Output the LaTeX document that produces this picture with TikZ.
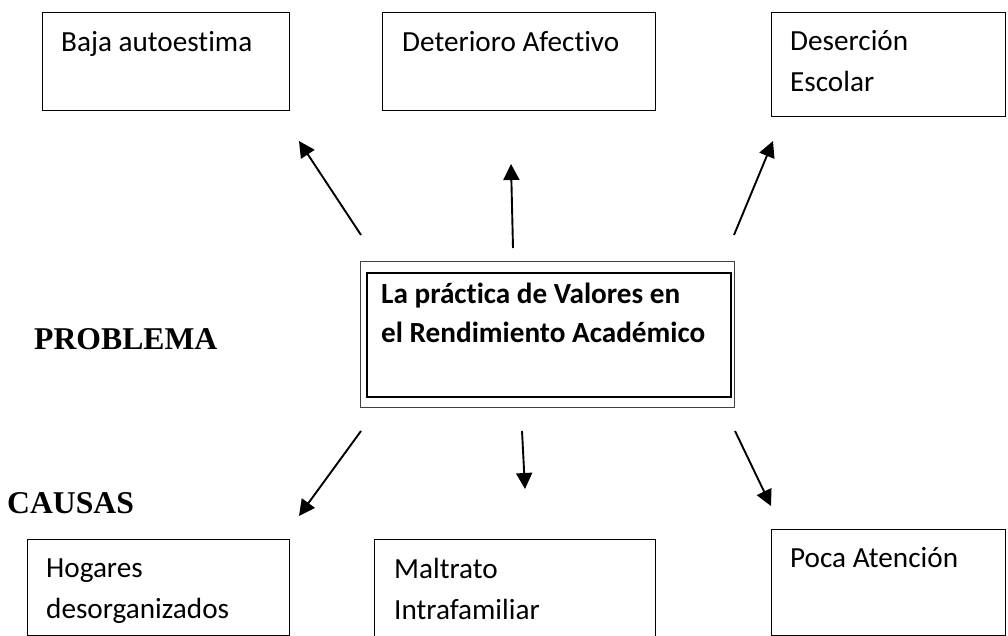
\documentclass[tikz,border=0pt]{standalone}
\usepackage{fontspec}
\setmainfont[Ligatures=NoCommon]{Carlito}
\newfontfamily\titlefont{Liberation Serif}
\usetikzlibrary{arrows.meta, positioning}

\begin{document}
\begin{tikzpicture}[x=1pt, y=-1pt,
  box/.style={draw, line width=1.4pt, inner sep=0pt, anchor=north west},
  txt/.style={inner sep=0pt, anchor=base west, align=left,
              font=\fontsize{29.2}{41}\selectfont},
  head/.style={inner sep=0pt, anchor=base west,
               font=\titlefont\bfseries\fontsize{31.7}{38}\selectfont},
  arr/.style={line width=1.9pt, -{Triangle[length=16pt, width=16pt]}}]
\useasboundingbox (0,0) rectangle (1008,636);
%%── Effect boxes (top row) ───────────────────────────────
\node[box, minimum width=247pt, minimum height=98pt]  (baja)  at (42,12)  {};
\node[box, minimum width=273pt, minimum height=98pt]  (deter) at (382,12) {};
\node[box, minimum width=234pt, minimum height=104pt] (deser) at (771,12) {};
%% base anchor of a two-line text = baseline of its last line
\node[txt] (bajat)  at ([shift={(19,40)}]baja.north west)  {Baja autoestima};
\node[txt] (detert) at ([shift={(20,40)}]deter.north west) {Deterioro Afectivo};
\node[txt] (desert) at ([shift={(19,80)}]deser.north west) {Deserción\\Escolar};
%%── Problem box (double frame) ───────────────────────────
\node[box, line width=0.9pt, draw=black!75, minimum width=374pt, minimum height=146pt] (prob) at (360,261) {};
\node[box, line width=1.6pt, minimum width=364pt, minimum height=124pt] (probin) at (366,272) {};
\node[txt, font=\bfseries\fontsize{29.2}{39}\selectfont] (probt)
     at ([shift={(15,70)}]probin.north west) {La práctica de Valores en\\el Rendimiento Académico};
%%── Cause boxes (bottom row) ─────────────────────────────
\node[box, minimum width=262pt, minimum height=96pt]  (hogar) at (27,539)  {};
\node[box, minimum width=281pt, minimum height=98pt]  (maltr) at (374,539) {};
\node[box, minimum width=234pt, minimum height=106pt] (poca)  at (771,529) {};
\node[txt] (hogart) at ([shift={(19,79)}]hogar.north west) {Hogares\\desorganizados};
\node[txt] (maltrt) at ([shift={(20,80)}]maltr.north west) {Maltrato\\Intrafamiliar};
\node[txt] (pocat)  at ([shift={(19,38)}]poca.north west)  {Poca Atención};
%%── Side headings ────────────────────────────────────────
\node[head] (problema) at (34,349) {PROBLEMA};
\node[head] (causas)   at (7,513)  {CAUSAS};
%%── Arrow end points ─────────────────────────────────────
\foreach \n/\p in {u1s/{361,235}, u1e/{299,141}, u2s/{513,248}, u2e/{511,164},
                   u3s/{734,235}, u3e/{773,141}, d1s/{361,431}, d1e/{299,516},
                   d2s/{522,431}, d2e/{525,489}, d3s/{735,431}, d3e/{771,506}}
  \coordinate (\n) at (\p);
%%── Arrows ───────────────────────────────────────────────
\foreach \a in {u1,u2,u3,d1,d2,d3}
  \draw[arr] (\a s) -- (\a e);
\end{tikzpicture}
\end{document}
